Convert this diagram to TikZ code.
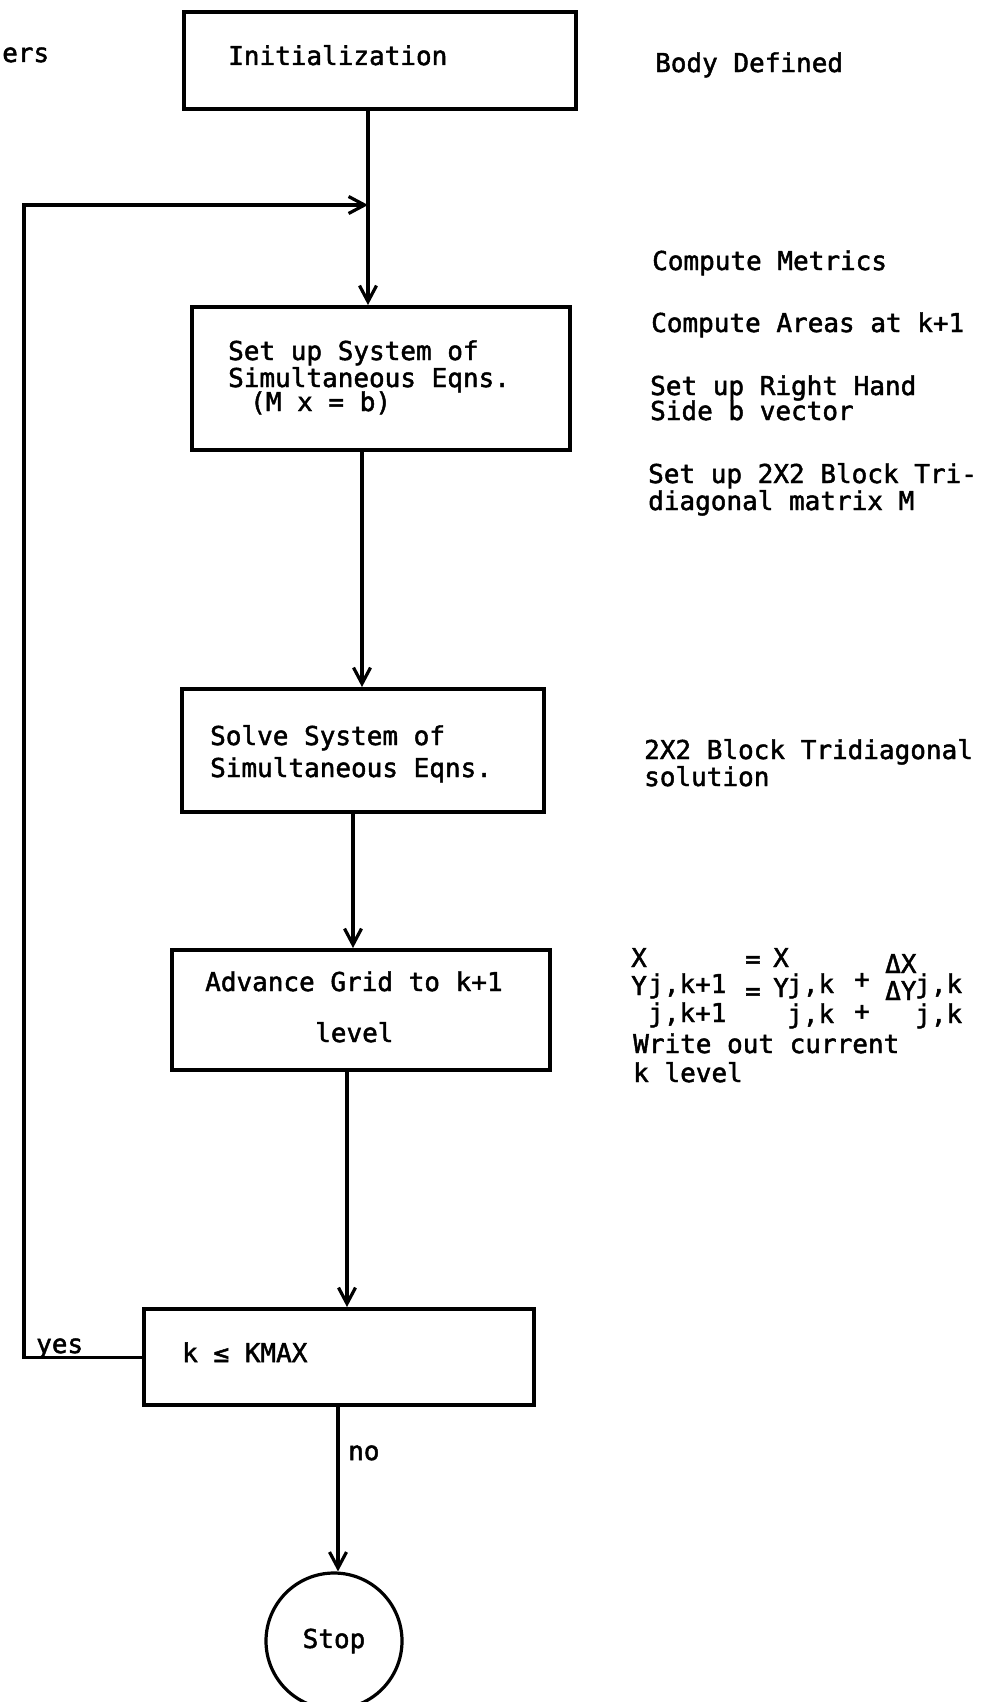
\documentclass[tikz,border=0pt]{standalone}
\usepackage{fontspec}
\newfontfamily\tw[FakeBold=1.8]{DejaVu Sans Mono}
\usetikzlibrary{arrows.meta}
\tikzset{
  box/.style={draw, line width=4.4pt, inner sep=0pt, anchor=north west},
  conn/.style={line width=3.2pt},
  arr/.style={conn, -{Straight Barb[length=16pt,width=17pt]}},
  tt/.style={font=\tw\fontsize{26}{28}\selectfont, inner sep=0pt, anchor=base west},
}
\begin{document}
\begin{tikzpicture}[x=1pt,y=-1pt]
\fill[white] (0,0) rectangle (981,1702);
\useasboundingbox (0,0) rectangle (981,1702);

% boxes
\node[box, minimum width=392pt, minimum height=97pt]  (init)  at (182,10) {};
\node[box, minimum width=378pt, minimum height=143pt] (setup) at (190,305) {};
\node[box, minimum width=362pt, minimum height=123pt] (solve) at (180,687) {};
\node[box, minimum width=378pt, minimum height=120pt] (adv)   at (170,948) {};
\node[box, minimum width=390pt, minimum height=96pt]  (kbox)  at (142,1307) {};
\node[draw, circle, line width=3.2pt, minimum size=136pt, inner sep=0pt,
      font=\tw\fontsize{26}{28}\selectfont] (stop) at (334,1641) {Stop};

% box texts
\node[tt] (tInit) at (228,65) {Initialization};
\node[tt] (tSet1) at (228,360) {Set up System of};
\node[tt] (tSet2) at (228,387) {Simultaneous Eqns.};
\node[tt] (tSet3) at (250,411) {(M x = b)};
\node[tt] (tSol1) at (210,745) {Solve System of};
\node[tt] (tSol2) at (210,777) {Simultaneous Eqns.};
\node[tt] (tAdv1) at (205,991) {Advance Grid to k+1};
\node[tt] (tAdv2) at (315,1042) {level};
\node[tt] (tK)    at (182,1362) {k ≤ KMAX};

% side notes
\node[tt] (tErs) at (2,62) {ers};
\node[tt] (nBody) at (655,72) {Body Defined};
\node[tt] (nMet)  at (652,270) {Compute Metrics};
\node[tt] (nArea) at (651,332) {Compute Areas at k+1};
\node[tt] (nRhs1) at (650,395) {Set up Right Hand};
\node[tt] (nRhs2) at (650,420) {Side b vector};
\node[tt] (nBlk1) at (648,483) {Set up 2X2 Block Tri-};
\node[tt] (nBlk2) at (648,510) {diagonal matrix M};
\node[tt] (nSol1) at (644,759) {2X2 Block Tridiagonal};
\node[tt] (nSol2) at (644,786) {solution};

% equations
\node[tt] (eX1)  at (631,967)  {X};
\node[tt] (eXs1) at (648,993)  {j,k+1};
\node[tt] (eEq1) at (745,968)  {=};
\node[tt] (eX2)  at (773,967)  {X};
\node[tt] (eXs2) at (787,993)  {j,k};
\node[tt] (ePl1) at (854,988)  {+};
\node[tt] (eDX)  at (885,973)  {ΔX};
\node[tt] (eXs3) at (915,993)  {j,k};
\node[tt] (eY1)  at (631,995)  {Y};
\node[tt] (eYs1) at (648,1022) {j,k+1};
\node[tt] (eEq2) at (745,1000) {=};
\node[tt] (eY2)  at (773,997)  {Y};
\node[tt] (eYs2) at (787,1023) {j,k};
\node[tt] (ePl2) at (854,1020) {+};
\node[tt] (eDY)  at (885,1000) {ΔY};
\node[tt] (eYs3) at (915,1023) {j,k};
\node[tt] (nWr1) at (633,1053) {Write out current};
\node[tt] (nWr2) at (633,1082) {k level};

% connectors
\coordinate (sA) at (368,0);
\coordinate (sB) at (362,0);
\coordinate (sC) at (353,0);
\coordinate (sD) at (347,0);
\coordinate (sE) at (338,0);
\coordinate (loopTop) at (368,205);
\coordinate (loopX) at (24,0);

\draw[arr] (init.south -| sA) -- (setup.north -| sA);
\draw[arr] (setup.south -| sB) -- (solve.north -| sB);
\draw[arr] (solve.south -| sC) -- (adv.north -| sC);
\draw[arr] (adv.south -| sD) -- (kbox.north -| sD);
\draw[arr] (kbox.south -| sE) -- (stop.north -| sE);
\draw[arr] (kbox.west) -- (kbox.west -| loopX) |- (loopTop);

\node[tt] (lYes) at (36,1353) {yes};
\node[tt] (lNo)  at (348,1460) {no};
\end{tikzpicture}
\end{document}
